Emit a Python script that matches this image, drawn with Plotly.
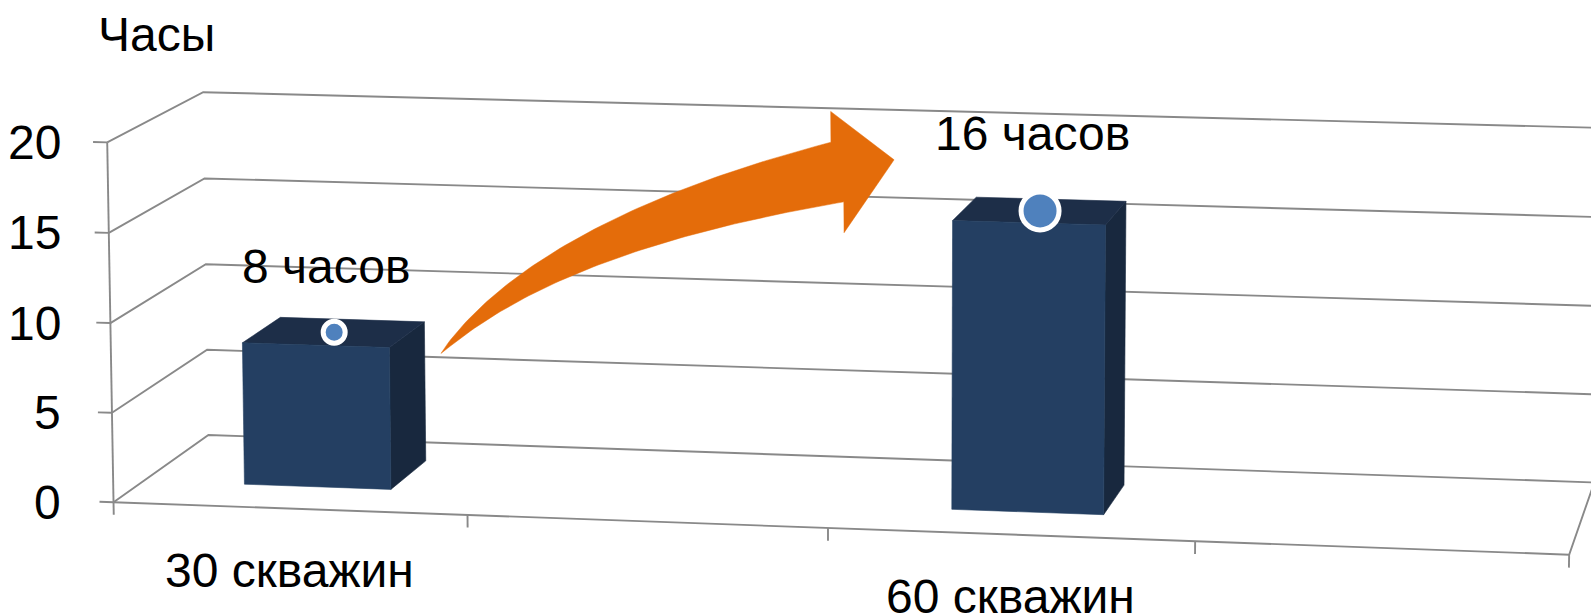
import numpy as np
import plotly.graph_objects as go

# ---------------- data ----------------
categories = ["30 скважин", "", "60 скважин", ""]       # category slots of the 3-D column chart
hours = [8, None, 16, None]                              # column values (hours)
value_labels = ["8 часов", None, "16 часов", None]       # data labels
y_ticks = [0, 5, 10, 15, 20]
y_tick_labels = ["0", "5", "10", "15", "20"]
y_title = "Часы"
Y_MAX = 20

# ---------------- layout / style constants ----------------
W, H = 1591, 615
N_CATS = len(categories)
FONT = "Liberation Sans, Arial, sans-serif"
FONT_SIZE = 48
GRID_COLOR = "#898989"
BAR_FRONT = "#243F62"
BAR_TOP = "#1D2E48"
BAR_SIDE = "#18283E"
MARKER_COLOR = "#4F81BD"
ARROW_COLOR = "#E46C0A"
BAR_HALF = 0.21            # half width of a column, in category units
BAR_DEPTH = (0.31, 0.73)   # column depth range inside the box (0 = front, 1 = back wall)
MARKER_DEPTH = 0.52
MARKER_RING = 5
TICK_LABEL_RIGHT = 63      # right edge of value-axis labels (px)

# perspective calibration of the 3-D box: (u/N, v/Ymax, depth) -> pixel
FRAME = [
    ((0, 0, 0), (113.3, 501.7)), ((0, 0.25, 0), (112.0, 413.3)), ((0, 0.5, 0), (110.7, 323.3)),
    ((0, 0.75, 0), (109.3, 233.3)), ((0, 1, 0), (106.7, 141.7)),
    ((0.25, 0, 0), (467.7, 514.7)), ((0.5, 0, 0), (827.7, 527.9)), ((0.75, 0, 0), (1195.0, 541.3)),
    ((1, 0, 0), (1569.3, 555.0)),
    ((0, 0, 1), (208.3, 435.0)), ((0, 0.25, 1), (207.0, 350.0)), ((0, 0.5, 1), (205.7, 265.0)),
    ((0, 0.75, 1), (205.0, 178.0)), ((0, 1, 1), (203.0, 92.0)),
    ((1, 0, 1), (1594.4, 481.7)), ((1, 0.5, 1), (1597.5, 306.2)), ((1, 1, 1), (1600.6, 128.0)),
]


def fit_camera(frame):
    cx, cy, s = 800.0, 300.0, 800.0
    A = []
    for (X, Y, Z), (x, y) in frame:
        xn, yn = (x - cx) / s, (y - cy) / s
        A.append([X, Y, Z, 1, 0, 0, 0, 0, -xn * X, -xn * Y, -xn * Z, -xn])
        A.append([0, 0, 0, 0, X, Y, Z, 1, -yn * X, -yn * Y, -yn * Z, -yn])
    _, _, vt = np.linalg.svd(np.array(A, dtype=float))
    Pn = vt[-1].reshape(3, 4)
    T_inv = np.array([[s, 0, cx], [0, s, cy], [0, 0, 1.0]])
    return T_inv @ Pn


P = fit_camera(FRAME)


def proj(u, v, w):
    p = P @ np.array([u / N_CATS, v / Y_MAX, w, 1.0])
    return p[0] / p[2], p[1] / p[2]


def path(points):
    xy = [proj(*p) for p in points]
    return [a for a, _ in xy], [b for _, b in xy]


fig = go.Figure()


def add_line(points, color=GRID_COLOR, width=1.9):
    xs, ys = path(points)
    fig.add_trace(go.Scatter(x=xs, y=ys, mode="lines", line=dict(color=color, width=width),
                             hoverinfo="skip", showlegend=False))


def add_poly(points, color):
    xs, ys = path(points)
    fig.add_trace(go.Scatter(x=xs + xs[:1], y=ys + ys[:1], mode="lines", fill="toself",
                             fillcolor=color, line=dict(color=color, width=0.6),
                             hoverinfo="skip", showlegend=False))


# side wall + back wall gridlines
for v in y_ticks:
    add_line([(0, v, 0), (0, v, 1), (N_CATS, v, 1)])
# floor front and right edges
add_line([(0, 0, 0), (N_CATS, 0, 0), (N_CATS, 0, 1)])
# value axis line and its ticks
add_line([(0, 0, 0), (0, Y_MAX, 0)])
for v in y_ticks:
    add_line([(-0.04, v, 0), (0, v, 0)])
# category tick marks
for k in range(N_CATS + 1):
    add_line([(k, 0, 0), (k, -0.7, 0)])

# 3-D columns
w0, w1 = BAR_DEPTH
for i, val in enumerate(hours):
    if val is None:
        continue
    u0, u1 = i + 0.5 - BAR_HALF, i + 0.5 + BAR_HALF
    add_poly([(u1, 0, w0), (u1, 0, w1), (u1, val, w1), (u1, val, w0)], BAR_SIDE)
    add_poly([(u0, val, w0), (u1, val, w0), (u1, val, w1), (u0, val, w1)], BAR_TOP)
    add_poly([(u0, 0, w0), (u1, 0, w0), (u1, val, w0), (u0, val, w0)], BAR_FRONT)

# value markers (size proportional to value)
mx, my, ms = [], [], []
for i, val in enumerate(hours):
    if val is None:
        continue
    x, y = proj(i + 0.5, val, MARKER_DEPTH)
    mx.append(x); my.append(y); ms.append(2 * val + MARKER_RING + 1)
fig.add_trace(go.Scatter(x=mx, y=my, mode="markers",
                         marker=dict(size=ms, color=MARKER_COLOR, opacity=1,
                                     line=dict(color="#FFFFFF", width=MARKER_RING)),
                         hoverinfo="skip", showlegend=False))

# curved growth arrow from the first column to the second
ARROW_TAIL = (0.93, 8.9, 0.0)
ARROW_TIP = (2.18, 20.2, 0.0)
S = np.array(proj(*ARROW_TAIL)); E = np.array(proj(*ARROW_TIP))
head_len, head_half, shaft_half = 58.0, 61.0, 30.5
a_end, a_start, a_base = np.radians(12.2), np.radians(48.0), np.radians(6.3)
t_end = np.array([np.cos(a_end), -np.sin(a_end)])
t_start = np.array([np.cos(a_start), -np.sin(a_start)])
H0 = E - head_len * t_end
coef = np.linalg.solve(np.column_stack([t_start, t_end]), H0 - S)
C = S + coef[0] * t_start
ts = np.linspace(0, 1, 80)
B = np.outer((1 - ts) ** 2, S) + np.outer(2 * (1 - ts) * ts, C) + np.outer(ts ** 2, H0)
dB = np.outer(2 * (1 - ts), C - S) + np.outer(2 * ts, H0 - C)
nrm = np.column_stack([dB[:, 1], -dB[:, 0]])
nrm /= np.linalg.norm(nrm, axis=1)[:, None]
hw = shaft_half * ts ** 0.85
upper = B + nrm * hw[:, None]
lower = B - nrm * hw[:, None]
base_n = np.array([-np.sin(a_base), -np.cos(a_base)])
head = np.array([H0 + head_half * base_n, E, H0 - head_half * base_n])
outline = np.vstack([upper, head, lower[::-1]])
fig.add_trace(go.Scatter(x=outline[:, 0], y=outline[:, 1], mode="lines", fill="toself",
                         fillcolor=ARROW_COLOR, line=dict(color=ARROW_COLOR, width=0.5),
                         hoverinfo="skip", showlegend=False))

# ---------------- text ----------------
ann = []
font = dict(family=FONT, size=FONT_SIZE, color="black")
for v, lab in zip(y_ticks, y_tick_labels):
    ann.append(dict(x=TICK_LABEL_RIGHT, y=proj(0, v, 0)[1], text=lab, xanchor="right",
                    yanchor="middle", showarrow=False, font=font))
for i, lab in enumerate(categories):
    if not lab:
        continue
    x, y = proj(i + 0.5, 0, 0)
    ann.append(dict(x=x, y=y, yshift=-62, text=lab, xanchor="center", yanchor="middle",
                    showarrow=False, font=font))
for i, (val, lab) in enumerate(zip(hours, value_labels)):
    if val is None:
        continue
    x, y = proj(i + 0.5, val, MARKER_DEPTH)
    r = (2 * val + MARKER_RING) / 2
    ann.append(dict(x=x, y=y, xshift=-8, yshift=50 + 1.5 * r, text=lab, xanchor="center",
                    yanchor="middle", showarrow=False, font=font))
tx, ty = proj(0, Y_MAX, 0)
ann.append(dict(x=tx, y=ty, xshift=49, yshift=108, text=y_title, xanchor="center",
                yanchor="middle", showarrow=False, font=font))

fig.update_layout(
    width=W, height=H, margin=dict(l=0, r=0, t=0, b=0),
    paper_bgcolor="white", plot_bgcolor="white",
    xaxis=dict(range=[0, W], visible=False, fixedrange=True),
    yaxis=dict(range=[H, 0], visible=False, fixedrange=True),
    annotations=ann, showlegend=False,
)
fig.write_html("out.html", config={"displayModeBar": False},
               post_script="document.body.style.margin='0';document.body.style.overflow='hidden';")
